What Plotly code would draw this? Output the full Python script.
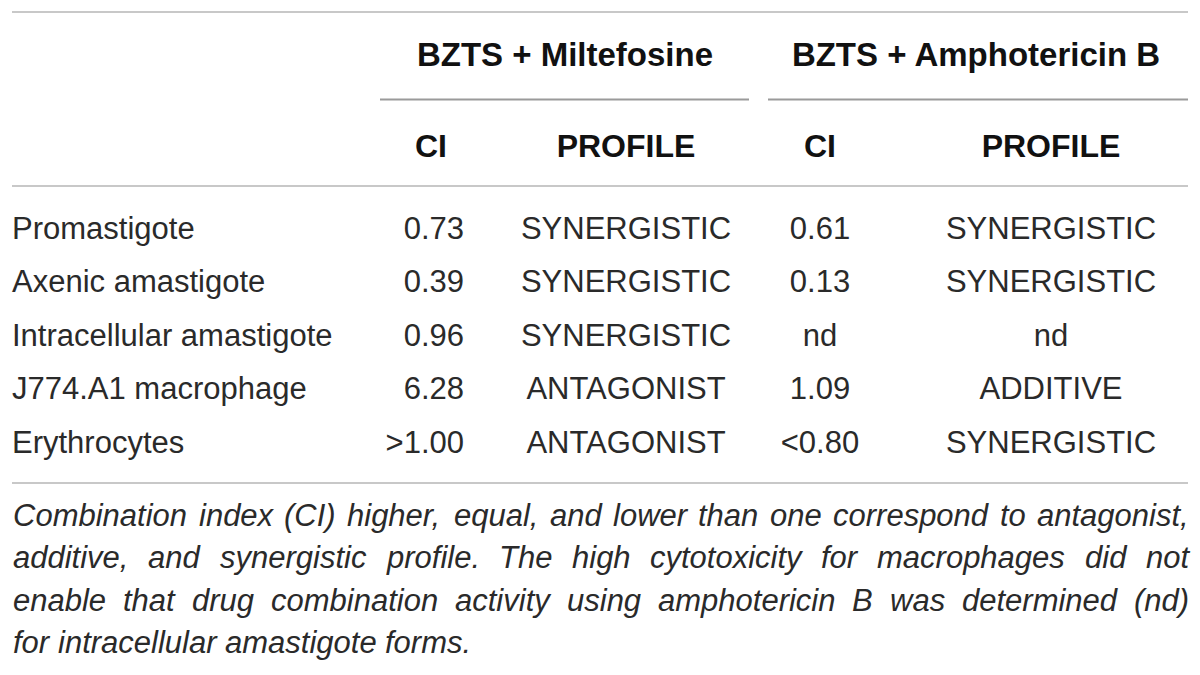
import plotly.graph_objects as go

# table content
groups = ["BZTS + Miltefosine", "BZTS + Amphotericin B"]
sub_headers = ["CI", "PROFILE", "CI", "PROFILE"]
cell_types = ["Promastigote", "Axenic amastigote", "Intracellular amastigote",
              "J774.A1 macrophage", "Erythrocytes"]
ci_miltefosine = ["0.73", "0.39", "0.96", "6.28", ">1.00"]
profile_miltefosine = ["SYNERGISTIC", "SYNERGISTIC", "SYNERGISTIC",
                       "ANTAGONIST", "ANTAGONIST"]
ci_amphotericin = ["0.61", "0.13", "nd", "1.09", "<0.80"]
profile_amphotericin = ["SYNERGISTIC", "SYNERGISTIC", "nd",
                        "ADDITIVE", "SYNERGISTIC"]
caption_lines = [
    "Combination index (CI) higher, equal, and lower than one correspond to antagonist,",
    "additive, and synergistic profile. The high cytotoxicity for macrophages did not",
    "enable that drug combination activity using amphotericin B was determined (nd)",
    "for intracellular amastigote forms.",
]

# Arial / Liberation Sans advance widths (per 1000 em), used to justify the caption
W = {" ": 278, ",": 278, ".": 278, "(": 333, ")": 333, "-": 333}
W.update(dict(zip("abcdefghijklmnopqrstuvwxyz",
                  [556, 556, 500, 556, 556, 278, 556, 556, 222, 222, 500, 222, 833,
                   556, 556, 556, 556, 333, 500, 278, 556, 500, 722, 500, 500, 500])))
W.update(dict(zip("ABCDEFGHIJKLMNOPQRSTUVWXYZ",
                  [667, 667, 722, 722, 667, 611, 778, 722, 278, 500, 667, 556, 833,
                   722, 778, 667, 778, 722, 667, 611, 722, 667, 944, 667, 667, 611])))


def text_width(s, size):
    return sum(W.get(c, 556) for c in s) * size / 1000


FONT = "Liberation Sans, Arial, sans-serif"
BODY = "#2a2a2a"
LEFT, RIGHT = 12, 1188
size_body = 31
size_cap = 31
OFF = 8  # page body margin of the browser

fig = go.Figure()

# group headers
group_x = [565, 976]
fig.add_trace(go.Scatter(
    x=group_x, y=[58] * len(groups), mode="text", text=groups,
    textposition="middle center",
    textfont=dict(family=FONT, size=33, color="#111111", weight="bold"),
    hoverinfo="skip"))

# sub headers
col_x = [431, 626, 820, 1051]
fig.add_trace(go.Scatter(
    x=col_x, y=[149] * len(sub_headers), mode="text", text=sub_headers,
    textposition="middle center",
    textfont=dict(family=FONT, size=32, color="#111111", weight="bold"),
    hoverinfo="skip"))

row_y = [231 + 53.5 * i for i in range(len(cell_types))]
body_font = dict(family=FONT, size=size_body, color=BODY)

fig.add_trace(go.Scatter(x=[LEFT] * len(cell_types), y=row_y, mode="text",
                         text=cell_types, textposition="middle right",
                         textfont=body_font, hoverinfo="skip"))
fig.add_trace(go.Scatter(x=[464] * len(ci_miltefosine), y=row_y, mode="text",
                         text=ci_miltefosine, textposition="middle left",
                         textfont=body_font, hoverinfo="skip"))
fig.add_trace(go.Scatter(x=[626] * len(profile_miltefosine), y=row_y, mode="text",
                         text=profile_miltefosine, textposition="middle center",
                         textfont=body_font, hoverinfo="skip"))
fig.add_trace(go.Scatter(x=[820] * len(ci_amphotericin), y=row_y, mode="text",
                         text=ci_amphotericin, textposition="middle center",
                         textfont=body_font, hoverinfo="skip"))
fig.add_trace(go.Scatter(x=[1051] * len(profile_amphotericin), y=row_y, mode="text",
                         text=profile_amphotericin, textposition="middle center",
                         textfont=body_font, hoverinfo="skip"))

# rules
light = dict(color="#c8c8c8", width=2)
dark = dict(color="#9a9a9a", width=2)
fig.add_shape(type="line", x0=LEFT, x1=RIGHT, y0=12, y1=12, line=light)
fig.add_shape(type="line", x0=380, x1=749, y0=99.5, y1=99.5, line=dark)
fig.add_shape(type="line", x0=768, x1=RIGHT, y0=99.5, y1=99.5, line=dark)
fig.add_shape(type="line", x0=LEFT, x1=RIGHT, y0=186, y1=186, line=light)
fig.add_shape(type="line", x0=LEFT, x1=RIGHT, y0=483, y1=483, line=light)

# justified italic caption
cap_font = dict(family=FONT, size=size_cap, color=BODY, style="italic")
for i, line in enumerate(caption_lines):
    y = 515 + 42.5 * i
    words = line.split()
    if i == len(caption_lines) - 1:
        gap = text_width(" ", size_cap)
    else:
        total = sum(text_width(w, size_cap) for w in words)
        gap = (RIGHT - LEFT - total) / (len(words) - 1)
    x = LEFT
    for w in words:
        fig.add_annotation(x=x, y=y, text=w, showarrow=False, xanchor="left",
                           yanchor="middle", font=cap_font, borderpad=0)
        x += text_width(w, size_cap) + gap

fig.update_layout(
    width=1200, height=675,
    margin=dict(l=0, r=0, t=0, b=0),
    plot_bgcolor="white", paper_bgcolor="white",
    showlegend=False,
    xaxis=dict(range=[OFF, 1200 + OFF], visible=False, fixedrange=True),
    yaxis=dict(range=[675 + OFF, OFF], visible=False, fixedrange=True),
)

fig.write_html("out.html")
